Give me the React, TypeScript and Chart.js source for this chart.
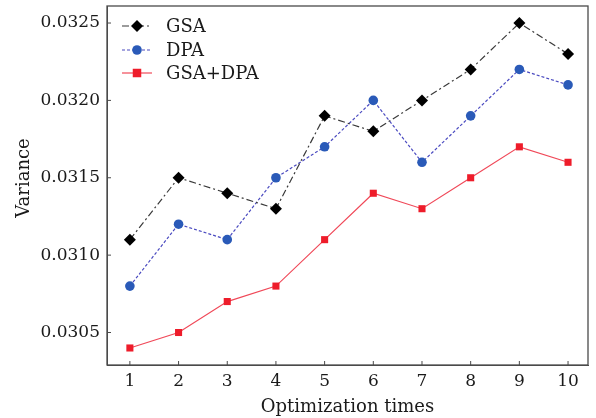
import React, { useEffect, useRef } from "react";
import { Chart, registerables } from "chart.js";

Chart.register(...registerables);

const categories = [1, 2, 3, 4, 5, 6, 7, 8, 9, 10];
const gsa = [0.0311, 0.0315, 0.0314, 0.0313, 0.0319, 0.0318, 0.032, 0.0322, 0.0325, 0.0323];
const dpa = [0.0308, 0.0312, 0.0311, 0.0315, 0.0317, 0.032, 0.0316, 0.0319, 0.0322, 0.0321];
const gsaDpa = [0.0304, 0.0305, 0.0307, 0.0308, 0.0311, 0.0314, 0.0313, 0.0315, 0.0317, 0.0316];
const yTicks = [0.0305, 0.031, 0.0315, 0.032, 0.0325];
const xTicks = categories;
const seriesNames = ["GSA", "DPA", "GSA+DPA"];
const yTitle = "Variance";
const xTitle = "Optimization times";

const FONT = "'DejaVu Serif', serif";

function drawMarker(ctx: CanvasRenderingContext2D, style: string, x: number, y: number, r: number, color: string) {
  ctx.save();
  ctx.fillStyle = color;
  ctx.beginPath();
  if (style === "rectRot") {
    ctx.moveTo(x, y - r);
    ctx.lineTo(x + r, y);
    ctx.lineTo(x, y + r);
    ctx.lineTo(x - r, y);
    ctx.closePath();
  } else if (style === "circle") {
    ctx.arc(x, y, r, 0, Math.PI * 2);
  } else {
    ctx.rect(x - r * 0.85, y - r * 0.85, r * 1.7, r * 1.7);
  }
  ctx.fill();
  ctx.restore();
}

const framePlugin = {
  id: "frame",
  afterDraw(chart: any) {
    const { ctx, chartArea } = chart;
    const { left, right, top, bottom } = chartArea;
    ctx.save();
    ctx.strokeStyle = "#4a4a4a";
    ctx.lineWidth = 1.3;
    ctx.strokeRect(left, top, right - left, bottom - top);
    const ys = chart.scales.y;
    const xs = chart.scales.x;
    ctx.lineWidth = 1;
    ys.ticks.forEach((t: any) => {
      const py = ys.getPixelForValue(t.value);
      ctx.beginPath();
      ctx.moveTo(left, py);
      ctx.lineTo(left + 4, py);
      ctx.stroke();
    });
    xs.ticks.forEach((t: any) => {
      const px = xs.getPixelForValue(t.value);
      ctx.beginPath();
      ctx.moveTo(px, bottom);
      ctx.lineTo(px, bottom - 4);
      ctx.stroke();
    });
    // y title
    ctx.save();
    ctx.fillStyle = "#1a1a1a";
    ctx.font = `18px ${FONT}`;
    ctx.textAlign = "center";
    ctx.textBaseline = "middle";
    ctx.translate(24, 178);
    ctx.rotate(-Math.PI / 2);
    ctx.fillText(yTitle, 0, 0);
    ctx.restore();
    // legend
    const rows = [20, 44, 67];
    chart.data.datasets.forEach((ds: any, i: number) => {
      const y = top + rows[i];
      const x0 = left + 15;
      const x1 = left + 45;
      ctx.save();
      ctx.strokeStyle = ds.borderColor;
      ctx.lineWidth = ds.borderWidth;
      ctx.setLineDash(ds.borderDash || []);
      ctx.beginPath();
      ctx.moveTo(x0, y);
      ctx.lineTo(x1, y);
      ctx.stroke();
      ctx.restore();
      drawMarker(ctx, ds.pointStyle, (x0 + x1) / 2, y, ds.pointRadius, ds.pointBackgroundColor);
      ctx.fillStyle = "#1a1a1a";
      ctx.font = `18px ${FONT}`;
      ctx.textBaseline = "middle";
      ctx.textAlign = "left";
      ctx.fillText(seriesNames[i], left + 59, y + 1);
    });
    ctx.restore();
  },
};

export default function App() {
  const ref = useRef<HTMLCanvasElement>(null);
  useEffect(() => {
    const canvas = ref.current!;
    const toPts = (arr: number[]) => arr.map((v, i) => ({ x: categories[i], y: v }));
    const chart = new Chart(canvas, {
      type: "line",
      data: {
        datasets: [
          {
            label: seriesNames[0],
            data: toPts(gsa),
            borderColor: "#3a3a3a",
            borderWidth: 1.2,
            borderDash: [7, 3, 2, 3],
            pointStyle: "rectRot",
            pointRadius: 6,
            pointBackgroundColor: "#000000",
            pointBorderColor: "#000000",
            pointBorderWidth: 0,
          },
          {
            label: seriesNames[1],
            data: toPts(dpa),
            borderColor: "#4a4ac0",
            borderWidth: 1.2,
            borderDash: [3, 2],
            pointStyle: "circle",
            pointRadius: 4.8,
            pointBackgroundColor: "#2a5ab8",
            pointBorderColor: "#2a5ab8",
            pointBorderWidth: 0,
          },
          {
            label: seriesNames[2],
            data: toPts(gsaDpa),
            borderColor: "#f04858",
            borderWidth: 1.2,
            pointStyle: "rect",
            pointRadius: 5,
            pointBackgroundColor: "#ee1c2a",
            pointBorderColor: "#ee1c2a",
            pointBorderWidth: 0,
          },
        ],
      },
      options: {
        animation: false,
        responsive: false,
        devicePixelRatio: 1,
        layout: { padding: { left: 0, right: 8, top: 5, bottom: 0 } },
        plugins: { legend: { display: false }, tooltip: { enabled: false } },
        scales: {
          x: {
            type: "linear",
            min: 0.53,
            max: 10.41,
            afterBuildTicks: (axis: any) => {
              axis.ticks = xTicks.map((v) => ({ value: v }));
            },
            afterFit: (scale: any) => {
              scale.height = 53;
              scale.paddingLeft = 0;
              scale.paddingRight = 0;
            },
            grid: { display: false, drawTicks: false },
            border: { display: true, color: "#4a4a4a" },
            ticks: {
              color: "#1a1a1a",
              font: { family: FONT, size: 17 },
              padding: 6,
              maxRotation: 0,
              autoSkip: false,
            },
            title: {
              display: true,
              text: xTitle,
              color: "#1a1a1a",
              font: { family: FONT, size: 18 },
              padding: { top: 0, bottom: 0 },
            },
          },
          y: {
            type: "linear",
            min: 0.03029,
            max: 0.03261,
            afterBuildTicks: (axis: any) => {
              axis.ticks = yTicks.map((v) => ({ value: v }));
            },
            afterFit: (scale: any) => {
              scale.width = 107;
              scale.paddingTop = 0;
              scale.paddingBottom = 0;
            },
            grid: { display: false, drawTicks: false },
            border: { display: true, color: "#4a4a4a" },
            ticks: {
              color: "#1a1a1a",
              font: { family: FONT, size: 17 },
              padding: 7,
              callback: (v: any) => Number(v).toFixed(4),
            },
            title: { display: false },
          },
        },
      },
      plugins: [framePlugin],
    } as any);
    return () => chart.destroy();
  }, []);
  return (
    <div style={{ position: "fixed", left: 0, top: 0, width: 596, height: 418, background: "#fff" }}>
      <canvas ref={ref} width={596} height={418} style={{ width: 596, height: 418 }} />
    </div>
  );
}
